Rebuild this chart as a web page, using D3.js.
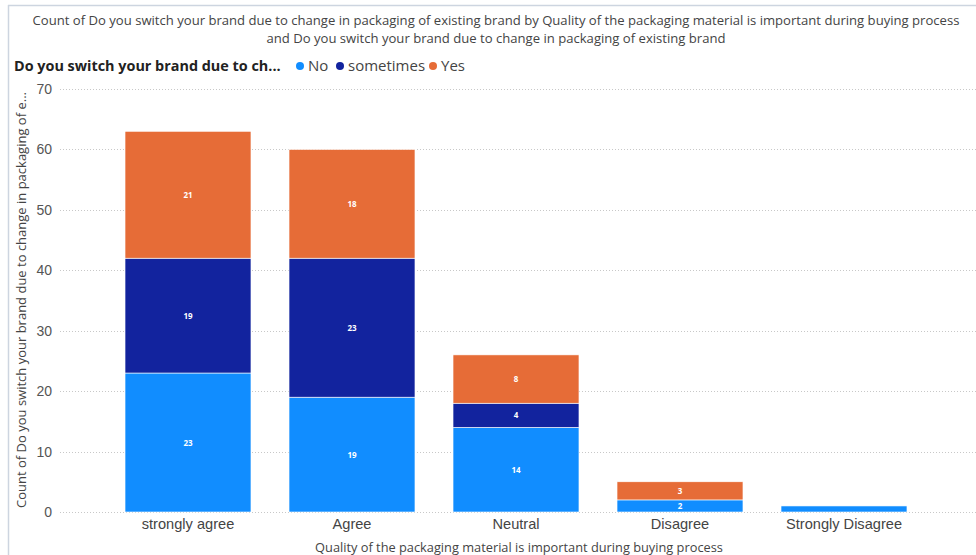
<!DOCTYPE html>
<html><head><meta charset="utf-8">
<script src="https://cdn.jsdelivr.net/npm/d3@7/dist/d3.min.js"></script>
<style>body{margin:0;background:#fff;}svg{display:block;font-family:"Segoe UI","Open Sans","DejaVu Sans",sans-serif;}</style>
</head><body><svg id="c" width="976" height="555"></svg>
<script>
const categories = ["strongly agree", "Agree", "Neutral", "Disagree", "Strongly Disagree"];
const seriesNames = ["No", "sometimes", "Yes"];
const noValues = [23, 19, 14, 2, 1];
const sometimesValues = [19, 23, 4, 0, 0];
const yesValues = [21, 18, 8, 3, 0];
const yTicks = [0, 10, 20, 30, 40, 50, 60, 70];
const colors = ["#118DFF", "#12239E", "#E66C37"];
const titleLines = ["Count of Do you switch your brand due to change in packaging of existing brand by Quality of the packaging material is important during buying process",
  "and Do you switch your brand due to change in packaging of existing brand"];
const legendTitle = "Do you switch your brand due to ch...";
const xTitle = "Quality of the packaging material is important during buying process";
const yTitle = "Count of Do you switch your brand due to change in packaging of e...";

const svg = d3.select("#c");
// frame
svg.append("line").attr("x1",8).attr("x2",976).attr("y1",5.5).attr("y2",5.5).attr("stroke","#cdd5e0").attr("stroke-width",1.5);
svg.append("line").attr("x1",8.5).attr("x2",8.5).attr("y1",5).attr("y2",555).attr("stroke","#cdd5e0").attr("stroke-width",1.5);

svg.selectAll("text.title").data(titleLines).join("text")
  .attr("x",496).attr("y",(d,i)=>25+i*18).attr("text-anchor","middle")
  .attr("font-size",13.1).attr("fill","#444").text(d=>d);

// legend
const lg = svg.append("g");
lg.append("text").attr("x",14).attr("y",71).attr("font-size",14.4).attr("font-weight","bold").attr("fill","#222").text(legendTitle);
const legendX = [300, 340, 433];
seriesNames.forEach((s,i)=>{
  lg.append("circle").attr("cx",legendX[i]).attr("cy",66).attr("r",4).attr("fill",colors[i]);
  lg.append("text").attr("x",legendX[i]+8).attr("y",71).attr("font-size",15).attr("fill","#444").text(s);
});

const y = d3.scaleLinear().domain([0,70]).range([512,89]);
const x = d3.scaleBand().domain(categories).range([106,926]).paddingInner(0.232).paddingOuter(0.116);

// gridlines
svg.append("g").selectAll("line").data(yTicks).join("line")
  .attr("x1",60).attr("x2",976).attr("y1",d=>Math.round(y(d))+0.5).attr("y2",d=>Math.round(y(d))+0.5)
  .attr("stroke","#c8c8c8").attr("stroke-dasharray","1,2");

const yAxis = svg.append("g").attr("transform","translate(52,0)")
  .call(d3.axisLeft(y).tickValues(yTicks).tickSize(0).tickPadding(0));
yAxis.select(".domain").remove();
yAxis.selectAll("text").attr("font-size",14).attr("fill","#555").attr("font-family",null);

const data = categories.map((c,i)=>({cat:c, No:noValues[i], sometimes:sometimesValues[i], Yes:yesValues[i]}));
const stacked = d3.stack().keys(seriesNames)(data);

const gBars = svg.append("g");
stacked.forEach((layer,si)=>{
  gBars.selectAll(null).data(layer).join("rect")
    .attr("x",d=>x(d.data.cat)).attr("width",x.bandwidth())
    .attr("y",d=>y(d[1])).attr("height",d=>Math.max(0,y(d[0])-y(d[1])))
    .attr("fill",colors[si]).attr("stroke","#fff").attr("stroke-width",0.6);
  gBars.selectAll(null).data(layer.filter(d=>d[1]-d[0]>=2)).join("text")
    .attr("x",d=>x(d.data.cat)+x.bandwidth()/2).attr("y",d=>(y(d[0])+y(d[1]))/2+3)
    .attr("text-anchor","middle").attr("font-size",8).attr("font-weight","bold").attr("fill","#fff")
    .text(d=>d[1]-d[0]);
});

const xAxis = svg.append("g").attr("transform","translate(0,512)")
  .call(d3.axisBottom(x).tickSize(0).tickPadding(7));
xAxis.select(".domain").remove();
xAxis.selectAll("text").attr("font-size",14.6).attr("fill","#444").attr("font-family",null);

svg.append("text").attr("x",519).attr("y",552).attr("text-anchor","middle").attr("font-size",12.8).attr("fill","#444").text(xTitle);
svg.append("text").attr("transform","translate(26,300) rotate(-90)").attr("text-anchor","middle").attr("font-size",13).attr("fill","#444").text(yTitle);
</script></body></html>
